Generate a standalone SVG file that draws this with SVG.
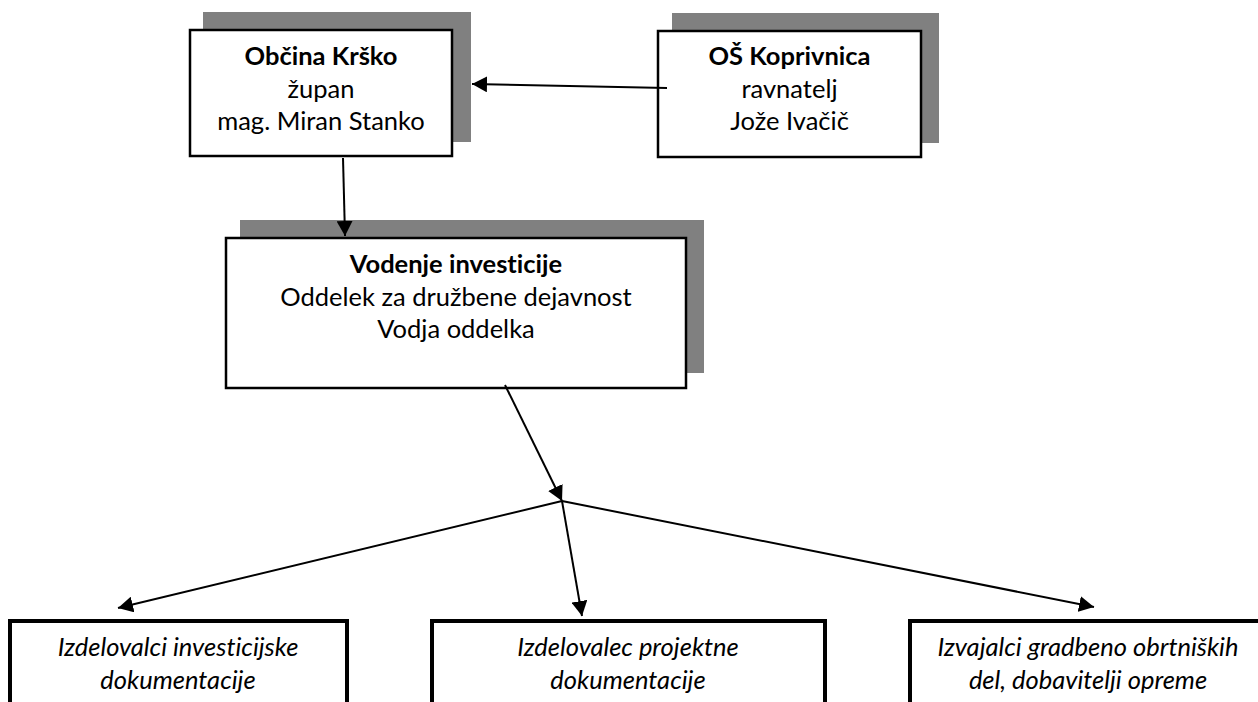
<svg xmlns="http://www.w3.org/2000/svg" width="1258" height="702" viewBox="0 0 1258 702">
  <style>
    .shadow { fill: #808080; stroke: none; }
    .box { fill: #ffffff; stroke: #000000; stroke-width: 2.5; }
    .box2 { fill: #ffffff; stroke: #000000; stroke-width: 4; }
    .t { font-family: Lato, "Open Sans", "Liberation Sans", sans-serif; font-size: 25.5px; fill: #000000; text-anchor: middle; font-variant-ligatures: none; }
    .b { font-weight: bold; }
    .i { font-style: italic; }
    .conn { stroke: #000000; stroke-width: 2; fill: none; marker-end: url(#arrow); }
  </style>
  <defs>
    <marker id="arrow" markerUnits="userSpaceOnUse" markerWidth="16" markerHeight="16" refX="15" refY="8" orient="auto">
      <path d="M0,0 L15,8 L0,16 z" fill="#000000"/>
    </marker>
  </defs>
  <rect width="1258" height="702" fill="#ffffff"/>

  <g id="obcina">
    <rect class="shadow" x="203" y="12" width="268" height="130"/>
    <rect class="box" x="190" y="30" width="262" height="126"/>
    <text class="t b" x="321" y="65">Občina Krško</text>
    <text class="t" x="321" y="97.5">župan</text>
    <text class="t" x="321" y="130">mag. Miran Stanko</text>
  </g>

  <g id="os-koprivnica">
    <rect class="shadow" x="672" y="13" width="267" height="130"/>
    <rect class="box" x="658" y="31" width="263" height="126"/>
    <text class="t b" x="789.5" y="65">OŠ Koprivnica</text>
    <text class="t" x="789.5" y="97.5">ravnatelj</text>
    <text class="t" x="789.5" y="130">Jože Ivačič</text>
  </g>

  <g id="vodenje">
    <rect class="shadow" x="240" y="220" width="464" height="153"/>
    <rect class="box" x="226" y="238" width="460" height="150"/>
    <text class="t b" x="456" y="273">Vodenje investicije</text>
    <text class="t" x="456" y="305.5">Oddelek za družbene dejavnost</text>
    <text class="t" x="456" y="338">Vodja oddelka</text>
  </g>

  <g id="izdelovalci-investicijske">
    <rect class="box2" x="10" y="621" width="337" height="110"/>
    <text class="t i" x="178" y="656">Izdelovalci investicijske</text>
    <text class="t i" x="178" y="688.5">dokumentacije</text>
  </g>

  <g id="izdelovalec-projektne">
    <rect class="box2" x="432" y="621" width="393" height="110"/>
    <text class="t i" x="628" y="656">Izdelovalec projektne</text>
    <text class="t i" x="628" y="688.5">dokumentacije</text>
  </g>

  <g id="izvajalci">
    <rect class="box2" x="910" y="621" width="360" height="110"/>
    <text class="t i" x="1088" y="656">Izvajalci gradbeno obrtniških</text>
    <text class="t i" x="1088" y="688.5">del, dobavitelji opreme</text>
  </g>

  <g id="connectors">
    <line class="conn" x1="667" y1="88" x2="472" y2="84"/>
    <line class="conn" x1="343" y1="158" x2="345" y2="236"/>
    <line class="conn" x1="505" y1="385" x2="562" y2="501"/>
    <line class="conn" x1="562" y1="501" x2="118" y2="608"/>
    <line class="conn" x1="562" y1="501" x2="582" y2="616"/>
    <line class="conn" x1="562" y1="501" x2="1094" y2="607"/>
  </g>
</svg>
